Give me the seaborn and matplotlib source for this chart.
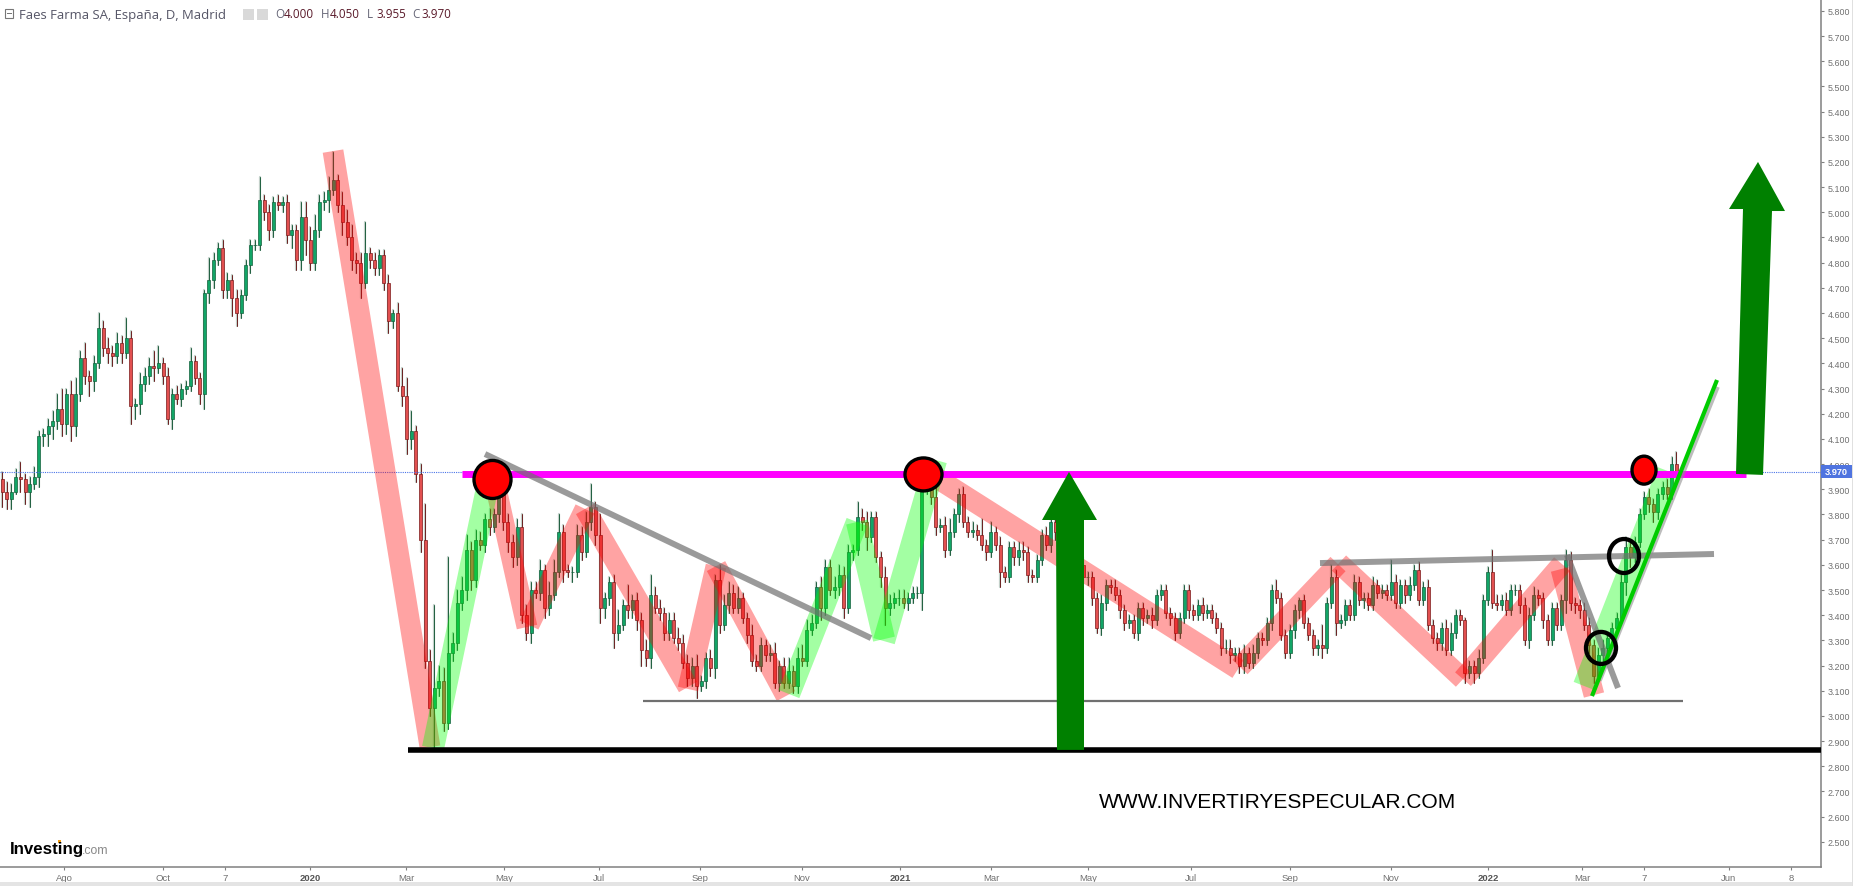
import numpy as np
import pandas as pd
import matplotlib
matplotlib.use("Agg")
import matplotlib.pyplot as plt
from matplotlib.patches import Ellipse, Rectangle
import seaborn as sns

# closing price of each candle, left to right
closes = [
    3.89, 3.86, 3.89, 3.95, 3.94, 3.89, 3.92, 3.95, 4.11, 4.12,
    4.15, 4.17, 4.22, 4.16, 4.28, 4.15, 4.28, 4.42, 4.35, 4.33,
    4.40, 4.54, 4.46, 4.44, 4.43, 4.48, 4.44, 4.50, 4.23, 4.24,
    4.32, 4.35, 4.39, 4.38, 4.40, 4.35, 4.18, 4.28, 4.26, 4.30,
    4.31, 4.41, 4.34, 4.28, 4.68, 4.73, 4.81, 4.86, 4.69, 4.73,
    4.66, 4.60, 4.67, 4.79, 4.87, 4.87, 5.05, 5.00, 4.93, 5.04,
    5.03, 5.04, 4.91, 4.93, 4.81, 4.98, 4.89, 4.80, 4.93, 5.04,
    5.05, 5.09, 5.13, 5.03, 4.96, 4.90, 4.81, 4.80, 4.72, 4.84,
    4.81, 4.78, 4.83, 4.72, 4.57, 4.60, 4.31, 4.27, 4.10, 4.13,
    3.96, 3.70, 3.22, 3.03, 3.11, 3.14, 2.97, 3.25, 3.29, 3.45,
    3.50, 3.66, 3.54, 3.70, 3.68, 3.78, 3.75, 3.80, 3.94, 3.77,
    3.69, 3.63, 3.75, 3.40, 3.33, 3.50, 3.49, 3.58, 3.43, 3.48,
    3.57, 3.73, 3.58, 3.57, 3.57, 3.72, 3.65, 3.77, 3.83, 3.72,
    3.43, 3.47, 3.53, 3.33, 3.36, 3.44, 3.42, 3.46, 3.38, 3.26,
    3.23, 3.48, 3.43, 3.41, 3.33, 3.38, 3.31, 3.29, 3.21, 3.15,
    3.20, 3.12, 3.14, 3.23, 3.19, 3.54, 3.36, 3.44, 3.49, 3.43,
    3.47, 3.39, 3.32, 3.22, 3.20, 3.28, 3.24, 3.25, 3.13, 3.20,
    3.13, 3.18, 3.12, 3.23, 3.22, 3.34, 3.37, 3.51, 3.43, 3.59,
    3.50, 3.51, 3.56, 3.43, 3.65, 3.66, 3.79, 3.77, 3.71, 3.79,
    3.63, 3.55, 3.43, 3.45, 3.47, 3.47, 3.45, 3.47, 3.49, 3.49,
    3.90, 3.96, 3.87, 3.75, 3.76, 3.66, 3.73, 3.80, 3.88, 3.77,
    3.73, 3.74, 3.72, 3.68, 3.65, 3.73, 3.68, 3.57, 3.55, 3.67,
    3.63, 3.66, 3.65, 3.56, 3.55, 3.62, 3.72, 3.68, 3.77, 3.73,
    3.72, 3.68, 3.65, 3.64, 3.60, 3.55, 3.55, 3.47, 3.35, 3.45,
    3.52, 3.51, 3.48, 3.42, 3.37, 3.38, 3.33, 3.43, 3.39, 3.40,
    3.38, 3.48, 3.50, 3.41, 3.39, 3.33, 3.39, 3.50, 3.42, 3.40,
    3.44, 3.41, 3.42, 3.39, 3.35, 3.27, 3.27, 3.24, 3.25, 3.20,
    3.25, 3.21, 3.25, 3.31, 3.30, 3.37, 3.50, 3.47, 3.32, 3.25,
    3.34, 3.42, 3.46, 3.37, 3.32, 3.27, 3.28, 3.27, 3.45, 3.55,
    3.37, 3.38, 3.44, 3.40, 3.53, 3.46, 3.47, 3.44, 3.52, 3.49,
    3.50, 3.48, 3.53, 3.45, 3.52, 3.48, 3.52, 3.58, 3.46, 3.51,
    3.36, 3.31, 3.29, 3.35, 3.26, 3.33, 3.40, 3.38, 3.17, 3.20,
    3.17, 3.23, 3.46, 3.57, 3.45, 3.44, 3.46, 3.42, 3.50, 3.50,
    3.44, 3.30, 3.40, 3.48, 3.47, 3.38, 3.30, 3.43, 3.36, 3.46,
    3.62, 3.45, 3.44, 3.42, 3.36, 3.28, 3.16, 3.24, 3.27, 3.31,
    3.35, 3.39, 3.53, 3.67, 3.63, 3.69, 3.80, 3.87, 3.84, 3.81,
    3.88, 3.91, 3.88, 4.00, 3.97,
]
first_open = 3.94

# wick lengths in cents, same order as closes
wick_up = [
    3, 4, 3, 3, 6, 2, 3, 4, 2, 2,
    3, 4, 6, 8, 2, 5, 6, 3, 6, 2,
    3, 6, 3, 4, 3, 4, 3, 8, 3, 2,
    4, 3, 3, 6, 7, 2, 3, 2, 3, 2,
    2, 5, 2, 2, 1, 9, 3, 2, 3, 3,
    2, 3, 2, 2, 2, 2, 9, 2, 3, 2,
    3, 2, 3, 2, 2, 6, 6, 5, 6, 3,
    3, 5, 11, 2, 5, 5, 5, 3, 4, 12,
    2, 3, 2, 2, 3, 1, 4, 7, 7, 8,
    2, 4, 14, 4, 33, 6, 5, 38, 4, 5,
    5, 6, 3, 4, 3, 2, 4, 2, 2, 4,
    3, 3, 3, 5, 4, 3, 3, 4, 2, 5,
    5, 7, 3, 2, 2, 4, 3, 4, 9, 2,
    8, 2, 2, 3, 6, 2, 8, 2, 3, 3,
    4, 8, 3, 3, 2, 3, 3, 4, 3, 3,
    3, 4, 2, 2, 3, 2, 6, 4, 4, 3,
    4, 2, 2, 4, 2, 3, 2, 3, 4, 2,
    3, 5, 2, 4, 5, 4, 3, 2, 4, 3,
    3, 4, 4, 3, 3, 2, 6, 3, 4, 2,
    2, 2, 4, 3, 2, 3, 3, 2, 2, 2,
    6, 2, 5, 5, 2, 3, 5, 2, 2, 3,
    2, 3, 2, 6, 2, 4, 2, 3, 2, 2,
    2, 3, 3, 2, 2, 2, 2, 3, 2, 2,
    3, 3, 2, 3, 3, 3, 2, 2, 2, 3,
    2, 2, 3, 2, 2, 2, 2, 2, 2, 2,
    3, 2, 2, 2, 2, 2, 2, 2, 2, 2,
    2, 3, 2, 2, 2, 2, 3, 3, 2, 2,
    3, 2, 3, 2, 2, 2, 2, 4, 2, 2,
    2, 2, 1, 2, 2, 2, 2, 8, 2, 5,
    3, 2, 2, 2, 3, 2, 2, 2, 3, 2,
    2, 2, 9, 3, 2, 2, 3, 2, 3, 2,
    3, 2, 2, 2, 3, 4, 2, 2, 1, 2,
    2, 3, 2, 2, 9, 3, 2, 3, 2, 2,
    2, 3, 3, 3, 2, 2, 2, 2, 2, 2,
    4, 3, 2, 2, 3, 3, 2, 3, 3, 2,
    2, 2, 3, 4, 3, 2, 2, 2, 3, 2,
    2, 2, 3, 3, 5,
]
wick_down = [
    6, 4, 4, 1, 5, 5, 6, 2, 4, 4,
    5, 5, 3, 5, 4, 6, 4, 3, 3, 6,
    4, 2, 3, 4, 4, 3, 4, 2, 7, 5,
    4, 3, 3, 5, 2, 3, 2, 4, 2, 3,
    2, 2, 2, 4, 6, 4, 3, 2, 3, 3,
    7, 5, 2, 2, 3, 2, 2, 3, 4, 3,
    2, 3, 3, 5, 4, 4, 6, 3, 3, 3,
    3, 5, 2, 3, 5, 3, 4, 4, 6, 2,
    3, 3, 3, 3, 5, 3, 2, 4, 6, 4,
    3, 5, 3, 3, 17, 3, 3, 2, 3, 3,
    3, 4, 4, 3, 2, 3, 3, 2, 3, 3,
    4, 4, 3, 3, 3, 4, 2, 3, 4, 3,
    2, 2, 5, 2, 4, 2, 3, 2, 3, 4,
    6, 4, 3, 6, 3, 2, 3, 3, 4, 6,
    3, 4, 2, 3, 3, 3, 2, 3, 2, 3,
    3, 5, 2, 3, 3, 4, 3, 2, 3, 2,
    2, 2, 3, 2, 2, 2, 2, 2, 2, 3,
    2, 2, 3, 3, 2, 2, 2, 2, 5, 3,
    2, 3, 3, 4, 2, 3, 2, 3, 5, 2,
    2, 4, 7, 3, 2, 3, 2, 3, 2, 2,
    7, 2, 3, 3, 2, 3, 2, 2, 3, 2,
    2, 2, 2, 2, 3, 2, 2, 6, 2, 2,
    3, 3, 3, 3, 2, 2, 2, 2, 3, 3,
    2, 3, 3, 3, 3, 3, 3, 3, 2, 3,
    3, 2, 2, 3, 3, 2, 2, 3, 3, 2,
    3, 2, 2, 2, 3, 3, 2, 2, 3, 2,
    2, 3, 2, 2, 2, 3, 2, 3, 2, 3,
    3, 2, 2, 2, 2, 2, 3, 2, 2, 2,
    2, 3, 3, 2, 2, 3, 3, 4, 2, 2,
    5, 2, 2, 2, 2, 2, 3, 2, 2, 2,
    2, 2, 2, 2, 2, 3, 2, 2, 2, 2,
    2, 2, 3, 3, 2, 2, 2, 2, 4, 2,
    4, 2, 2, 2, 2, 2, 2, 2, 2, 2,
    3, 2, 3, 2, 3, 3, 2, 2, 2, 2,
    5, 3, 3, 3, 2, 3, 3, 2, 2, 2,
    2, 2, 2, 5, 4, 2, 2, 2, 3, 4,
    3, 2, 2, 2, 1,
]

# time axis is the chart's own scale; one candle every candle_step units
candle_step = 4.6
x_ticks = [64, 163, 225, 310, 406, 504, 599, 700, 802, 900, 991, 1088, 1191, 1290, 1391, 1488, 1582, 1644, 1729, 1791]
x_labels = ["Ago", "Oct", "7", "2020", "Mar", "May", "Jul", "Sep", "Nov", "2021", "Mar", "May", "Jul", "Sep", "Nov", "2022", "Mar", "7", "Jun", "8"]
y_ticks = [round(2.5 + 0.1 * i, 1) for i in range(34)]
last_price = 3.97

# hand drawn annotations: (x, price) end points
red_legs = [
    ([333, 430], [5.243, 2.876]),
    ([494, 527], [3.941, 3.353]),
    ([529, 585], [3.361, 3.822]),
    ([585, 688], [3.822, 3.115]),
    ([688, 716], [3.107, 3.595]),
    ([716, 786], [3.595, 3.079]),
    ([935, 1238], [3.949, 3.186]),
    ([1240, 1338], [3.194, 3.603]),
    ([1339, 1463], [3.607, 3.146]),
    ([1463, 1562], [3.146, 3.603]),
    ([1561, 1594], [3.583, 3.083]),
]
green_legs = [
    ([433, 489], [2.872, 3.941]),
    ([789, 857], [3.087, 3.770]),
    ([857, 884], [3.770, 3.305]),
    ([884, 936], [3.297, 4.016]),
    ([1584, 1668], [3.119, 3.972]),
]
gray_lines = [
    ([485, 871], [4.040, 3.309]),
    ([1320, 1714], [3.607, 3.643]),
    ([1567, 1618], [3.639, 3.111]),
]
support_x, support_price = [643, 1683], [3.060, 3.060]
floor_x, floor_price = [408, 1821], [2.865, 2.865]
resistance_x, resistance_price = [462, 1746], [3.961, 3.961]
trend_x, trend_price = [1592, 1717], [3.079, 4.334]
trend_shadow_x, trend_shadow_price = [1600, 1718], [3.139, 4.306]

arrow_left_x = [1057, 1056, 1042, 1069, 1097, 1084, 1084]
arrow_left_p = [2.865, 3.778, 3.778, 3.969, 3.778, 3.778, 2.865]
arrow_right_x = [1736, 1743, 1729, 1758, 1785, 1772, 1763]
arrow_right_p = [3.961, 5.013, 5.013, 5.200, 5.005, 5.005, 3.957]

# x, price, width, price height
red_dots = [(492.5, 3.939, 37, 0.151), (923.5, 3.959, 37, 0.131), (1644, 3.976, 24, 0.111)]
rings = [(1601, 3.27, 30, 0.127), (1624, 3.635, 30, 0.135)]

W, H = 1853, 887
SPINE_X, SPINE_Y = 1821, 868

sns.set_theme(style="white")
plt.rcParams['font.family'] = ['Liberation Sans', 'DejaVu Sans']

closes_arr = np.array(closes)
opens = np.concatenate([[first_open], closes_arr[:-1]])
xs = np.arange(len(closes)) * candle_step + 2
highs = np.maximum(opens, closes_arr) + np.array(wick_up) / 100
lows = np.minimum(opens, closes_arr) - np.array(wick_down) / 100
up = closes_arr >= opens

fig = plt.figure(figsize=(W / 100, H / 100), dpi=100)
ax = fig.add_axes([0, (H - SPINE_Y) / H, SPINE_X / W, SPINE_Y / H])

wicks = pd.DataFrame({
    'x': np.repeat(xs, 2),
    'price': np.column_stack([lows, highs]).ravel(),
    'bar': np.repeat(np.arange(len(xs)), 2),
    'dir': np.repeat(np.where(up, 'up', 'down'), 2),
})
# soft halo then the dark wick
sns.lineplot(data=wicks, x='x', y='price', units='bar', estimator=None, sort=False, color='#a9bdb2',
             lw=1.6, alpha=0.7, legend=False, ax=ax, zorder=1)
sns.lineplot(data=wicks, x='x', y='price', units='bar', hue='dir', estimator=None, sort=False,
             palette={'up': '#1f5f3f', 'down': '#6b2020'}, lw=0.7, legend=False, ax=ax, zorder=2)
ax.bar(xs[up], (closes_arr - opens)[up], bottom=opens[up], width=3.0, color='#12a567', edgecolor='#14603c', linewidth=0.5, zorder=3)
ax.bar(xs[~up], (opens - closes_arr)[~up], bottom=closes_arr[~up], width=3.0, color='#e25050', edgecolor='#7a1a1a', linewidth=0.5, zorder=3)


def leg(x, p, color, lw, alpha=1.0, z=5):
    sns.lineplot(x=x, y=p, estimator=None, sort=False, color=color, lw=lw, alpha=alpha,
                 solid_capstyle='butt', legend=False, ax=ax, zorder=z)


ax.axhline(last_price, color='#4a74e8', lw=0.8, ls=(0, (1, 1)), zorder=4)
for x, p in red_legs:
    leg(x, p, '#ff0000', 15, 0.36)
for x, p in green_legs:
    leg(x, p, '#00ff00', 16, 0.36)
leg(resistance_x, resistance_price, '#ff00ff', 5, z=6)
for x, p in gray_lines:
    leg(x, p, '#707070', 4.3, 0.7, z=7)
leg(support_x, support_price, '#707070', 1.6, z=7)
leg(floor_x, floor_price, '#000000', 4, z=7)
leg(trend_shadow_x, trend_shadow_price, '#909090', 2.5, 0.6, z=7)
leg(trend_x, trend_price, '#00cc00', 3, z=8)

ax.fill(arrow_left_x, arrow_left_p, color='#008000', lw=0, zorder=9)
ax.fill(arrow_right_x, arrow_right_p, color='#008000', lw=0, zorder=9)
for cx, cp, w, h in red_dots:
    ax.add_patch(Ellipse((cx, cp), w, h, fc='#ff0000', ec='black', lw=2.4, zorder=10))
for cx, cp, w, h in rings:
    ax.add_patch(Ellipse((cx, cp), w, h, fc='none', ec='black', lw=3.1, zorder=10))

ax.set_xlim(0, SPINE_X)
ax.set_ylim(2.4, 5.847)
ax.set_xlabel('')
ax.set_ylabel('')
ax.set_xticks(x_ticks)
ax.set_xticklabels(x_labels)
ax.yaxis.tick_right()
ax.set_yticks(y_ticks)
ax.set_yticklabels([f'{v:.3f}' for v in y_ticks])
ax.tick_params(axis='x', length=2.5, width=0.8, color='#808080', labelsize=6.8, labelcolor='#707070', pad=1.5, bottom=True)
ax.tick_params(axis='y', length=2.5, width=0.8, color='#808080', labelsize=6.4, labelcolor='#707070', pad=2.5, right=True)
for lab in ax.get_xticklabels():
    if lab.get_text() in ('2020', '2021', '2022'):
        lab.set_fontweight('bold')
        lab.set_color('#555555')
ax.spines['top'].set_visible(False)
ax.spines['left'].set_visible(False)
for s in ('right', 'bottom'):
    ax.spines[s].set_color('#808080')
    ax.spines[s].set_linewidth(1.1)


def box(px, py, w, h, **kw):
    fig.add_artist(Rectangle((px / W, 1 - (py + h) / H), w / W, h / H, transform=fig.transFigure, **kw))


def label(px, py, s, **kw):
    fig.text(px / W, 1 - py / H, s, va='center', **kw)


# frame strips and last price tag
box(0, 883, W, 4, fc='#e4e4e4', ec='none')
box(1852, 0, 1, H, fc='#e0e0e0', ec='none')
box(SPINE_X, 466, 31, 13, fc='#4f74e0', ec='none', zorder=20)
label(1836.5, 472.5, '3.970', color='white', fontsize=6.6, fontweight='bold', ha='center', zorder=21)

# header
box(4.5, 9.5, 9, 9, fc='white', ec='#777777', lw=0.8)
box(6.5, 13.5, 5, 1, fc='#777777', ec='none')
label(19, 15, 'Faes Farma SA, España, D, Madrid', color='#555566', fontsize=9.45, family=['Open Sans', 'DejaVu Sans'])
box(243, 10, 11, 11, fc='#d9d9d9', ec='none')
box(257, 10, 11, 11, fc='#d9d9d9', ec='none')
for px, letter, val in [(275, 'O', '4.000'), (321, 'H', '4.050'), (367, 'L', '3.955'), (412, 'C', '3.970')]:
    label(px, 15, letter, color='#666677', fontsize=8.4, family=['Open Sans', 'DejaVu Sans'])
    label(px + 9, 15, val, color='#5a1a2a', fontsize=8.4, family=['Open Sans', 'DejaVu Sans'])

# logo and watermark
label(10, 850, 'Investing', color='black', fontsize=12.2, fontweight='bold')
label(82, 851, '.com', color='#888888', fontsize=8.8)
box(58, 841, 3, 3, fc='#f39c12', ec='none')
label(1099, 803, 'WWW.INVERTIRYESPECULAR.COM', color='black', fontsize=15.15)

fig.savefig('out.png', dpi=100)
